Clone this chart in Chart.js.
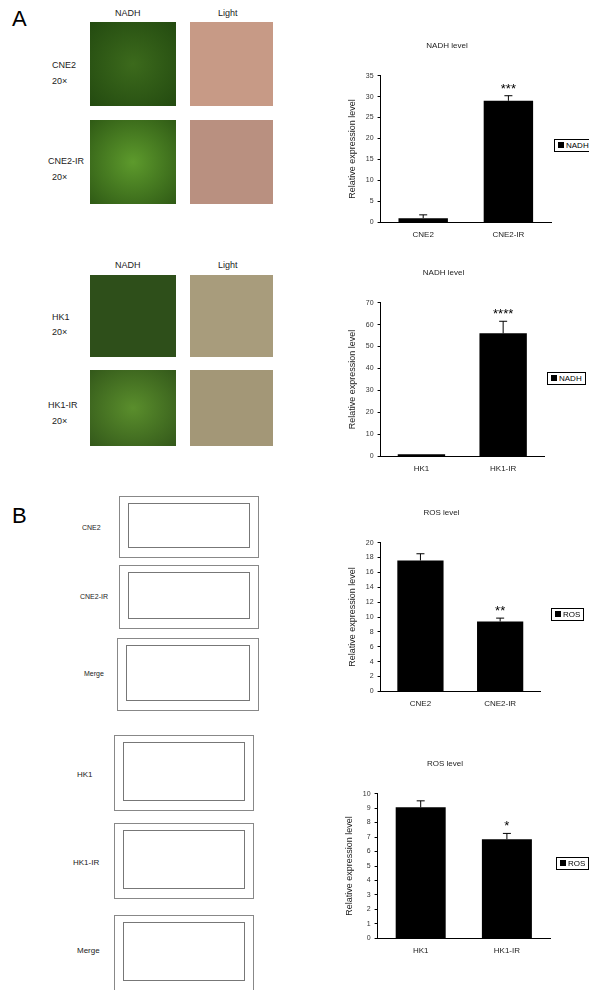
<!DOCTYPE html>
<html><head><meta charset="utf-8">
<script src="https://cdn.jsdelivr.net/npm/chart.js@4/dist/chart.umd.min.js"></script>
<style>
body{margin:0;width:589px;height:990px;position:relative;background:#fff;font-family:"Liberation Sans",Arial,sans-serif;overflow:hidden}
.a{position:absolute}
.lab{position:absolute;font-size:9px;color:#222}
.img{position:absolute}
.leg{position:absolute;border:1px solid #000;font-size:8px;padding:1px 3px;background:#fff;white-space:nowrap}
.leg i{display:inline-block;width:6px;height:6px;background:#000;margin-right:2px}
.flow{position:absolute;border:1px solid #888;background:#fff}
.flow div{position:absolute;left:8px;top:6px;right:8px;bottom:9px;border:1px solid #777}
</style></head><body>
<div class="a" style="left:12px;top:6px;font-size:22px">A</div>
<div class="a" style="left:12px;top:503px;font-size:22px">B</div>
<div class="lab" style="left:115px;top:8px">NADH</div>
<div class="lab" style="left:218px;top:8px">Light</div>
<div class="lab" style="left:115px;top:260px">NADH</div>
<div class="lab" style="left:218px;top:260px">Light</div>
<div class="lab" style="left:52px;top:60px">CNE2</div><div class="lab" style="left:52px;top:76px">20×</div>
<div class="lab" style="left:48px;top:156px">CNE2-IR</div><div class="lab" style="left:52px;top:172px">20×</div>
<div class="lab" style="left:52px;top:312px">HK1</div><div class="lab" style="left:52px;top:327px">20×</div>
<div class="lab" style="left:48px;top:400px">HK1-IR</div><div class="lab" style="left:52px;top:416px">20×</div>
<div class="img" style="left:90px;top:22px;width:86px;height:84px;background:radial-gradient(#3c6a1c,#234a10)"></div>
<div class="img" style="left:190px;top:22px;width:83px;height:84px;background:#c79a86"></div>
<div class="img" style="left:90px;top:120px;width:86px;height:84px;background:radial-gradient(#5d9a2c,#2f5a15)"></div>
<div class="img" style="left:190px;top:120px;width:83px;height:84px;background:#b99080"></div>
<div class="img" style="left:90px;top:275px;width:86px;height:82px;background:#2e4f1a"></div>
<div class="img" style="left:190px;top:275px;width:83px;height:82px;background:#a89c7c"></div>
<div class="img" style="left:90px;top:370px;width:86px;height:76px;background:radial-gradient(#5a8e2c,#33581a)"></div>
<div class="img" style="left:190px;top:370px;width:83px;height:76px;background:#a39777"></div>
<div class="lab" style="left:82px;top:524px;font-size:7px">CNE2</div>
<div class="lab" style="left:80px;top:593px;font-size:7px">CNE2-IR</div>
<div class="lab" style="left:84px;top:670px;font-size:7px">Merge</div>
<div class="lab" style="left:77px;top:770px;font-size:8px">HK1</div>
<div class="lab" style="left:73px;top:858px;font-size:8px">HK1-IR</div>
<div class="lab" style="left:77px;top:946px;font-size:8px">Merge</div>
<div class="flow" style="left:119px;top:496px;width:138px;height:60px"><div></div></div>
<div class="flow" style="left:119px;top:565px;width:138px;height:62px"><div></div></div>
<div class="flow" style="left:117px;top:638px;width:140px;height:71px"><div></div></div>
<div class="flow" style="left:114px;top:735px;width:138px;height:74px"><div></div></div>
<div class="flow" style="left:114px;top:823px;width:138px;height:74px"><div></div></div>
<div class="flow" style="left:114px;top:915px;width:138px;height:74px"><div></div></div>

<div class="a" style="left:343px;top:39px;width:210px;height:209px"><canvas id="c1"></canvas></div>
<div class="a" style="left:343px;top:266px;width:203px;height:216px"><canvas id="c2"></canvas></div>
<div class="a" style="left:343px;top:506px;width:199px;height:211px"><canvas id="c3"></canvas></div>
<div class="a" style="left:340px;top:757px;width:212px;height:207px"><canvas id="c4"></canvas></div>
<div class="leg" style="left:554px;top:139px"><i></i>NADH</div>
<div class="leg" style="left:547px;top:372px"><i></i>NADH</div>
<div class="leg" style="left:551px;top:608px"><i></i>ROS</div>
<div class="leg" style="left:556px;top:857px"><i></i>ROS</div>
<script>
const nadhCNE = ["CNE2","CNE2-IR"], nadhCNEval=[1.0,29.0], nadhCNEerr=[0.8,1.2], nadhCNEsig=["","***"];
const nadhHK = ["HK1","HK1-IR"], nadhHKval=[1.0,56.0], nadhHKerr=[0,5.5], nadhHKsig=["","****"];
const rosCNE = ["CNE2","CNE2-IR"], rosCNEval=[17.6,9.4], rosCNEerr=[0.9,0.45], rosCNEsig=["","**"];
const rosHK = ["HK1","HK1-IR"], rosHKval=[9.05,6.85], rosHKerr=[0.45,0.4], rosHKsig=["","*"];
const errPlugin={id:'err',afterDatasetsDraw(ch,a,o){const ctx=ch.ctx,y=ch.scales.y,meta=ch.getDatasetMeta(0);
 const d=ch.data.datasets[0];ctx.save();ctx.strokeStyle='#000';ctx.lineWidth=1;ctx.fillStyle='#000';
 meta.data.forEach((b,i)=>{const v=d.data[i],e=d.err[i];const top=y.getPixelForValue(v+e);
  if(e>0){ctx.beginPath();ctx.moveTo(b.x,b.y);ctx.lineTo(b.x,top);ctx.moveTo(b.x-4,top);ctx.lineTo(b.x+4,top);ctx.stroke();}
  if(d.sig[i]){ctx.font='13px "Liberation Sans"';ctx.textAlign='center';ctx.fillText(d.sig[i],b.x,top-3);}
 });ctx.restore();}};
function mk(id,labels,vals,errs,sig,title,max,step){
 new Chart(document.getElementById(id),{type:'bar',plugins:[errPlugin],
 data:{labels,datasets:[{data:vals,err:errs,sig,backgroundColor:'#000',barPercentage:0.58,categoryPercentage:1}]},
 options:{responsive:true,maintainAspectRatio:false,animation:false,
 layout:{padding:{top:0,right:2,bottom:0,left:0}},
 plugins:{legend:{display:false},tooltip:{enabled:false},title:{display:true,text:title,color:'#222',font:{size:8,family:'Liberation Sans',weight:'normal'},padding:{top:2,bottom:25}}},
 scales:{x:{grid:{display:false,drawTicks:false},border:{color:'#000'},ticks:{color:'#222',font:{size:8,family:'Liberation Sans'},padding:8}},
 y:{min:0,max:max,ticks:{stepSize:step,color:'#333',font:{size:7,family:'Liberation Sans'},padding:4},
  grid:{drawOnChartArea:false,tickLength:3,color:'#000'},border:{color:'#000'},
  title:{display:true,text:'Relative expression level',color:'#222',font:{size:9,family:'Liberation Sans'}}}}}});}
mk('c1',nadhCNE,nadhCNEval,nadhCNEerr,nadhCNEsig,'NADH level',35,5);
mk('c2',nadhHK,nadhHKval,nadhHKerr,nadhHKsig,'NADH level',70,10);
mk('c3',rosCNE,rosCNEval,rosCNEerr,rosCNEsig,'ROS level',20,2);
mk('c4',rosHK,rosHKval,rosHKerr,rosHKsig,'ROS level',10,1);
</script></body></html>
